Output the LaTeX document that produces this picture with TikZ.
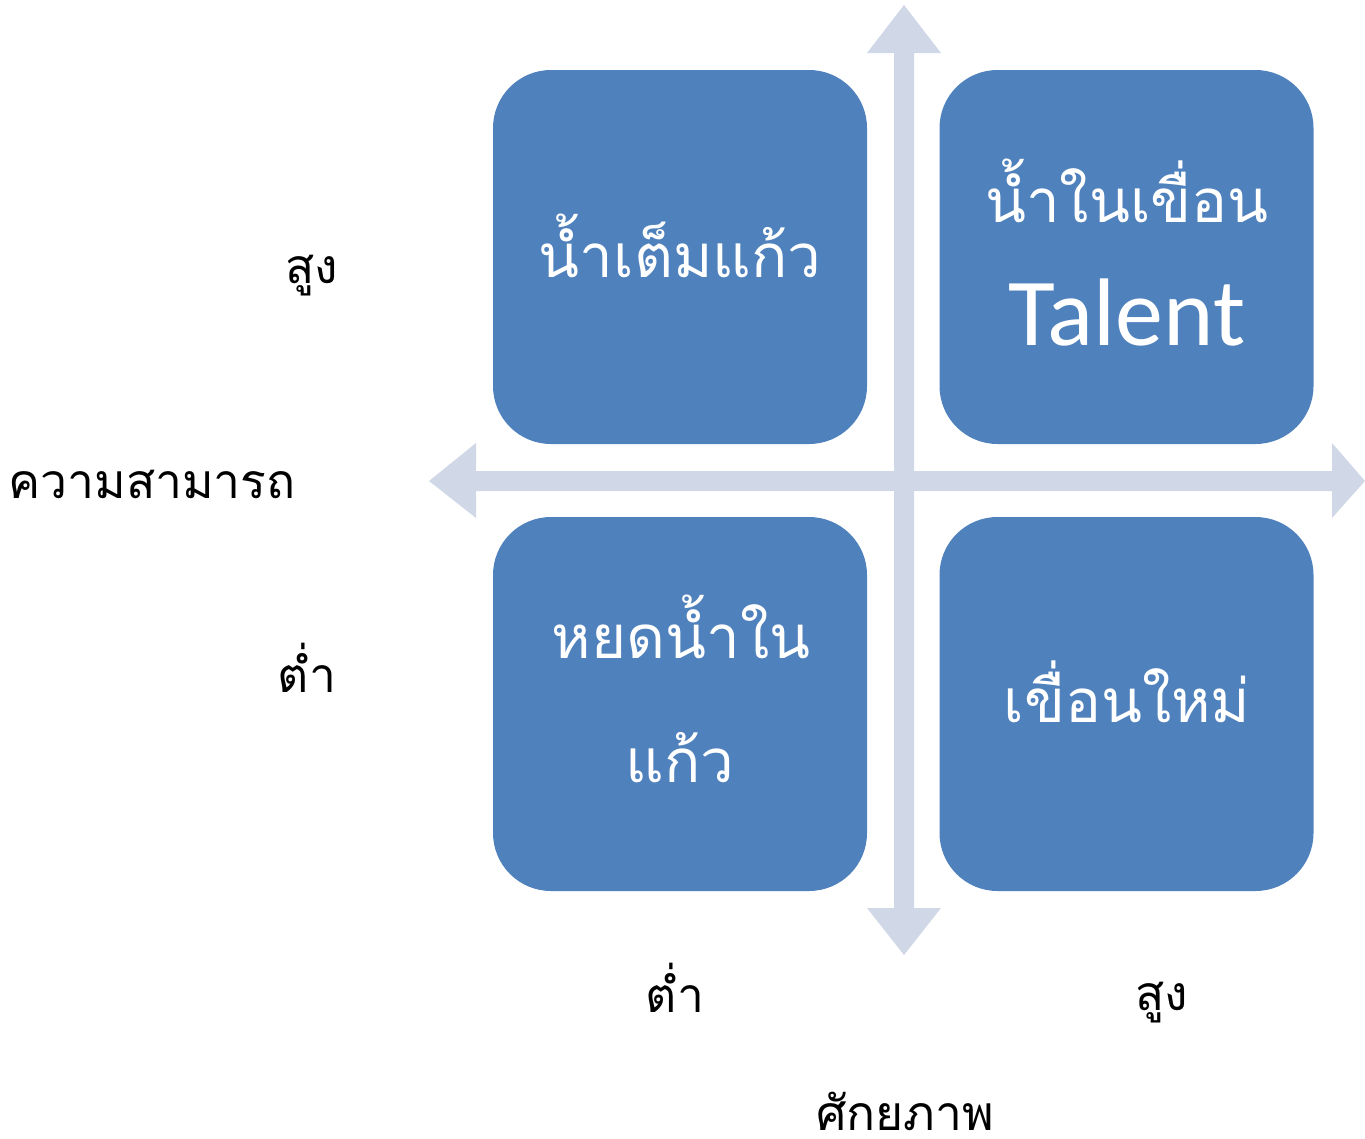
\documentclass[tikz,border=0pt]{standalone}
\usepackage{fontspec}
\newfontfamily\thaifont[Script=Thai]{Loma}
\newfontfamily\latinfont{Carlito}
\definecolor{boxblue}{HTML}{4F81BD}
\definecolor{axisgrey}{HTML}{D0D8E8}
\begin{document}
\begin{tikzpicture}[x=1pt,y=-1pt,
  cell/.style={fill=boxblue, draw=none, rounded corners=58pt,
    minimum width=374pt, minimum height=374pt, inner sep=0pt},
  celltext/.style={text=white, font=\thaifont\fontsize{60}{60}\selectfont,
    anchor=base, inner sep=0pt},
  talenttext/.style={text=white, font=\latinfont\fontsize{96}{96}\selectfont,
    anchor=base, inner sep=0pt},
  axislabel/.style={text=black, font=\thaifont\fontsize{48}{48}\selectfont,
    anchor=base, inner sep=0pt},
  axisarrow/.style={fill=axisgrey, draw=none}]
\useasboundingbox (0,0) rectangle (1365,1138);

% axes: double-headed block arrows
\fill[axisarrow] (894,53) -- (867,53) -- (904,5) -- (941,53) -- (914,53)
  -- (914,908) -- (941,908) -- (904,955) -- (867,908) -- (894,908) -- cycle;
\fill[axisarrow] (476,471) -- (476,443) -- (429,481) -- (476,518) -- (476,491)
  -- (1332,491) -- (1332,518) -- (1365,481) -- (1332,443) -- (1332,471) -- cycle;

% quadrants
\node[cell] (tl) at (680,257) {};
\node[cell] (tr) at (1126.5,257) {};
\node[cell] (bl) at (680,704) {};
\node[cell] (br) at (1126.5,704) {};

\node[celltext] (tltext) at (680,277) {น้ำเต็มแก้ว};
\node[celltext] (trtext) at (1127,222) {น้ำในเขื่อน};
\node[talenttext] (trtalent) at (1127,345) {Talent};
\node[celltext] (bltext1) at (681,658) {หยดน้ำใน};
\node[celltext] (bltext2) at (680,782) {แก้ว};
\node[celltext] (brtext) at (1127,722) {เขื่อนใหม่};

% axis labels
\node[axislabel] (yhigh) at (312,283) {สูง};
\node[axislabel] (ytitle) at (152,498) {ความสามารถ};
\node[axislabel] (ylow) at (307,692) {ต่ำ};
\node[axislabel] (xlow) at (675,1012) {ต่ำ};
\node[axislabel] (xhigh) at (1162,1010) {สูง};
\node[axislabel] (xtitle) at (905,1130) {ศักยภาพ};
\end{tikzpicture}
\end{document}
